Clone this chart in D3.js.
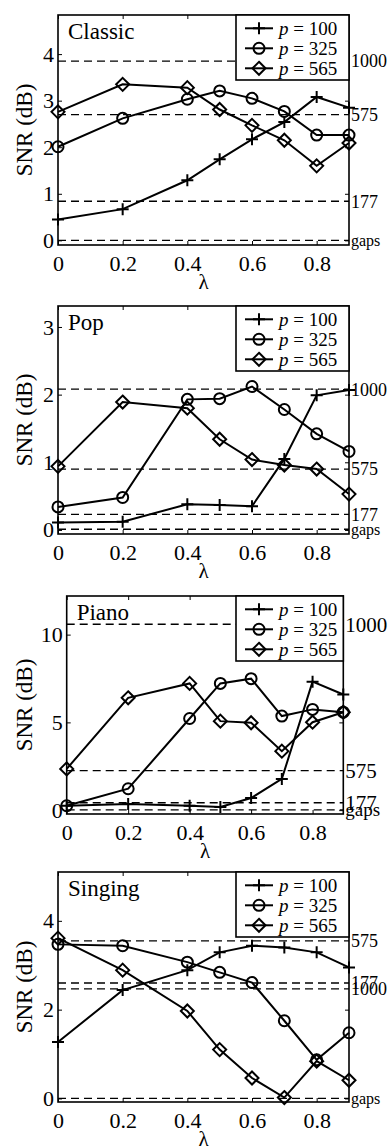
<!DOCTYPE html>
<html>
<head>
<meta charset="utf-8">
<script src="https://cdn.jsdelivr.net/npm/d3@7"></script>
<style>
  html, body { margin: 0; padding: 0; background: #fff; }
  svg { display: block; }
  text { font-family: "Liberation Serif", "DejaVu Serif", serif; fill: #000; }
</style>
</head>
<body>
<div id="chart"></div>
<script>
// lambda values on the x axis
const lambda = [0, 0.2, 0.4, 0.5, 0.6, 0.7, 0.8, 0.9];
const xTicks = [0, 0.2, 0.4, 0.6, 0.8];
const seriesNames = ["100", "325", "565"];
const refNames = ["1000", "575", "177", "gaps"];

// Classic
const classicP100 = [0.45, 0.67, 1.29, 1.74, 2.17, 2.54, 3.08, 2.85];
const classicP325 = [2.01, 2.62, 3.03, 3.21, 3.05, 2.77, 2.26, 2.26];
const classicP565 = [2.76, 3.35, 3.28, 2.81, 2.47, 2.15, 1.60, 2.09];
const classicRefs = [3.85, 2.70, 0.84, 0];
const classicTicks = [0, 1, 2, 3, 4];

// Pop
const popP100 = [0.11, 0.12, 0.38, 0.37, 0.35, 1.05, 1.99, 2.07];
const popP325 = [0.34, 0.48, 1.93, 1.94, 2.12, 1.78, 1.42, 1.16];
const popP565 = [0.94, 1.89, 1.80, 1.34, 1.04, 0.96, 0.90, 0.53];
const popRefs = [2.08, 0.90, 0.23, 0.01];
const popTicks = [0, 1, 2, 3];

// Piano
const pianoP100 = [0.25, 0.35, 0.25, 0.18, 0.69, 1.78, 7.32, 6.59];
const pianoP325 = [0.25, 1.22, 5.22, 7.22, 7.49, 5.36, 5.74, 5.58];
const pianoP565 = [2.35, 6.40, 7.22, 5.07, 4.98, 3.36, 5.01, 5.58];
const pianoRefs = [10.59, 2.25, 0.42, 0.02];
const pianoTicks = [0, 5, 10];

// Singing
const singingP100 = [1.27, 2.44, 2.89, 3.29, 3.44, 3.40, 3.29, 2.95];
const singingP325 = [3.47, 3.44, 3.07, 2.84, 2.61, 1.75, 0.87, 1.48];
const singingP565 = [3.61, 2.89, 1.97, 1.10, 0.46, 0.02, 0.84, 0.41];
const singingRefs = [2.47, 3.55, 2.60, 0];
const singingTicks = [0, 2, 4];

const panels = [
  { title: "Classic", series: [classicP100, classicP325, classicP565], refs: classicRefs, ticks: classicTicks,
    yDomain: [-0.1, 4.84], refSize: 18, box: { left: 58, right: 349, top: 15, bottom: 245 } },
  { title: "Pop", series: [popP100, popP325, popP565], refs: popRefs, ticks: popTicks,
    yDomain: [-0.06, 3.31], refSize: 18, box: { left: 58, right: 349, top: 306, bottom: 534 } },
  { title: "Piano", series: [pianoP100, pianoP325, pianoP565], refs: pianoRefs, ticks: pianoTicks,
    yDomain: [-0.22, 12.2], refSize: 21, box: { left: 66.7, right: 343.3, top: 596, bottom: 814 } },
  { title: "Singing", series: [singingP100, singingP325, singingP565], refs: singingRefs, ticks: singingTicks,
    yDomain: [-0.08, 5.1], refSize: 18, box: { left: 58, right: 349, top: 872, bottom: 1102 } }
];

const W = 392, H = 1146;
const svg = d3.select("#chart").append("svg")
  .attr("width", W).attr("height", H);

function drawMarker(g, kind, cx, cy) {
  if (kind === 0) {
    g.append("path")
      .attr("d", `M${cx - 6},${cy}H${cx + 6}M${cx},${cy - 6}V${cy + 6}`)
      .attr("stroke", "#000").attr("stroke-width", 2).attr("fill", "none");
  } else if (kind === 1) {
    g.append("circle").attr("cx", cx).attr("cy", cy).attr("r", 5.5)
      .attr("stroke", "#000").attr("stroke-width", 2).attr("fill", "none");
  } else {
    g.append("path")
      .attr("d", `M${cx},${cy - 6.5}L${cx + 6.5},${cy}L${cx},${cy + 6.5}L${cx - 6.5},${cy}Z`)
      .attr("stroke", "#000").attr("stroke-width", 2).attr("fill", "none");
  }
}

panels.forEach(p => {
  const b = p.box;
  const x = d3.scaleLinear().domain([0, 0.9]).range([b.left, b.right]);
  const y = d3.scaleLinear().domain(p.yDomain).range([b.bottom, b.top]);
  const g = svg.append("g");

  // reference dashed lines
  p.refs.forEach((v, i) => {
    g.append("line")
      .attr("x1", b.left).attr("x2", b.right)
      .attr("y1", y(v)).attr("y2", y(v))
      .attr("stroke", "#000").attr("stroke-width", 1.3)
      .attr("stroke-dasharray", "8,5");
    g.append("text")
      .attr("x", b.right + 2).attr("y", y(v))
      .attr("dy", "0.35em")
      .style("font-size", (i === 3 ? p.refSize - 2 : p.refSize) + "px")
      .text(refNames[i]);
  });

  // axes
  const xb = g.append("g").attr("transform", `translate(0,${b.bottom})`)
    .call(d3.axisBottom(x).tickValues(xTicks).tickFormat(d3.format("")).tickSizeInner(-4).tickSizeOuter(0).tickPadding(10));
  const xt = g.append("g").attr("transform", `translate(0,${b.top})`)
    .call(d3.axisTop(x).tickValues(xTicks).tickFormat("").tickSizeInner(-4).tickSizeOuter(0));
  const yl = g.append("g").attr("transform", `translate(${b.left},0)`)
    .call(d3.axisLeft(y).tickValues(p.ticks).tickFormat(d3.format("d")).tickSizeInner(-4).tickSizeOuter(0).tickPadding(4));
  const yr = g.append("g").attr("transform", `translate(${b.right},0)`)
    .call(d3.axisRight(y).tickValues(p.ticks).tickFormat("").tickSizeInner(-4).tickSizeOuter(0));
  [xb, xt, yl, yr].forEach(a => {
    a.attr("font-family", null).attr("font-size", null);
    a.select(".domain").remove();
    a.selectAll(".tick line").attr("stroke", "#000").attr("stroke-width", 1);
    a.selectAll(".tick text").style("font-size", "22px").attr("fill", "#000");
  });

  g.append("rect")
    .attr("x", b.left).attr("y", b.top)
    .attr("width", b.right - b.left).attr("height", b.bottom - b.top)
    .attr("fill", "none").attr("stroke", "#000").attr("stroke-width", 1.6);

  // axis titles
  g.append("text")
    .attr("transform", `translate(24,${(b.top + b.bottom) / 2}) rotate(-90)`)
    .attr("text-anchor", "middle").attr("dy", "0.35em")
    .style("font-size", "23px")
    .text("SNR (dB)");
  g.append("text")
    .attr("x", (b.left + b.right) / 2).attr("y", b.bottom + 44)
    .attr("text-anchor", "middle")
    .style("font-size", "21px")
    .text("λ");

  g.append("text")
    .attr("x", b.left + 10).attr("y", b.top + 24)
    .style("font-size", "23px")
    .text(p.title);

  // series
  const line = d3.line().x((d, i) => x(lambda[i])).y(d => y(d));
  p.series.forEach((vals, k) => {
    g.append("path").datum(vals)
      .attr("d", line)
      .attr("fill", "none").attr("stroke", "#000").attr("stroke-width", 2);
    vals.forEach((v, i) => drawMarker(g, k, x(lambda[i]), y(v)));
  });

  // legend
  const lx = 236, lw = b.right - lx, lh = 65;
  const lg = g.append("g").attr("transform", `translate(${lx},${b.top})`);
  lg.append("rect").attr("x", 0).attr("y", 0).attr("width", lw).attr("height", lh)
    .attr("fill", "#fff").attr("stroke", "#000").attr("stroke-width", 1.6);
  seriesNames.forEach((name, k) => {
    const ry = 13.3 + k * 20;
    lg.append("line").attr("x1", 9).attr("x2", 37).attr("y1", ry).attr("y2", ry)
      .attr("stroke", "#000").attr("stroke-width", 2);
    drawMarker(lg, k, 23, ry);
    const t = lg.append("text").attr("x", 43).attr("y", ry).attr("dy", "0.33em")
      .style("font-size", "19px");
    t.append("tspan").style("font-style", "italic").text("p");
    t.append("tspan").text(" = " + name);
  });
});
</script>
</body>
</html>
